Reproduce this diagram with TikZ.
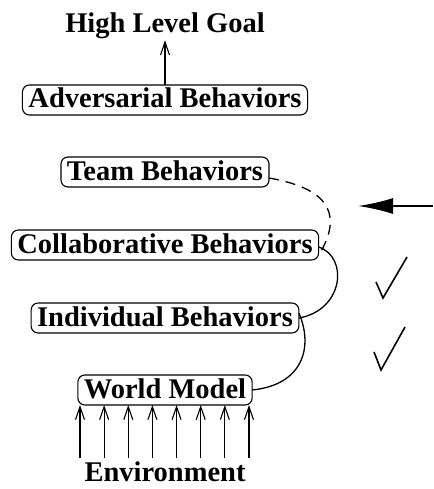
\documentclass[tikz,border=0pt]{standalone}
\usepackage{fontspec}
\usepackage{tikz}
\usetikzlibrary{arrows.meta}
\setmainfont{Liberation Serif}
\tikzset{
  behavbox/.style={draw=black,rounded corners=7pt,line width=1.1pt,
    inner xsep=6pt,inner ysep=3pt,text height=20pt,text depth=4pt},
  upline/.style={draw=black,line width=1.1pt,
    -{Straight Barb[length=13pt,width=9pt,line width=1.1pt]}},
  bendline/.style={draw=black,line width=1.3pt},
  tickline/.style={draw=black,line width=1.6pt,line join=miter}
}

\begin{document}
\begin{tikzpicture}[y=1pt,x=1pt,yscale=-1, inner sep=0pt, outer sep=0pt,
  font=\fontsize{28.5}{32}\selectfont\bfseries]
  \useasboundingbox (0,0) rectangle (433,489);
  \node[anchor=base,inner sep=1pt] (goal) at (165,33) {High Level Goal};
  \node[behavbox] (adversarial) at (165,100) {Adversarial Behaviors};
  \node[behavbox] (team) at (165,172) {Team Behaviors};
  \node[behavbox] (collab) at (165,245) {Collaborative Behaviors};
  \node[behavbox] (individual) at (165,318) {Individual Behaviors};
  \node[behavbox] (world) at (165,390) {World Model};
  \node[anchor=base] (env) at (165,481) {Environment};

  \draw[upline] (adversarial.north) -- (goal.south);
  \foreach \i in {0,...,7}{
    \coordinate (in\i) at (80+24.14*\i,458);
    \draw[upline] (in\i) -- (in\i |- world.south);
  }

  \draw[bendline,dash pattern=on 10pt off 7pt]
    ([yshift=6pt]team.east) .. controls +(51,9) and +(25,-44) .. ([xshift=2pt,yshift=7pt]collab.east);
  \draw[bendline]
    ([yshift=2pt]collab.east) .. controls +(30,10) and +(45,-8) .. (individual.east);
  \draw[bendline]
    ([yshift=-5pt]individual.east) .. controls +(15,35) and +(50,-5) .. (world.east);

  \coordinate (pointer) at (358,206);
  \coordinate (pointertail) at (433,206);
  \draw[line width=2pt,-{Latex[length=35pt,width=16pt]}] (pointertail) -- (pointer);

  \path[tickline] (376,282) -- (383,298) -- (407,257);
  \path[tickline] (374,352) -- (381,370) -- (405,327);

\end{tikzpicture}
\end{document}
